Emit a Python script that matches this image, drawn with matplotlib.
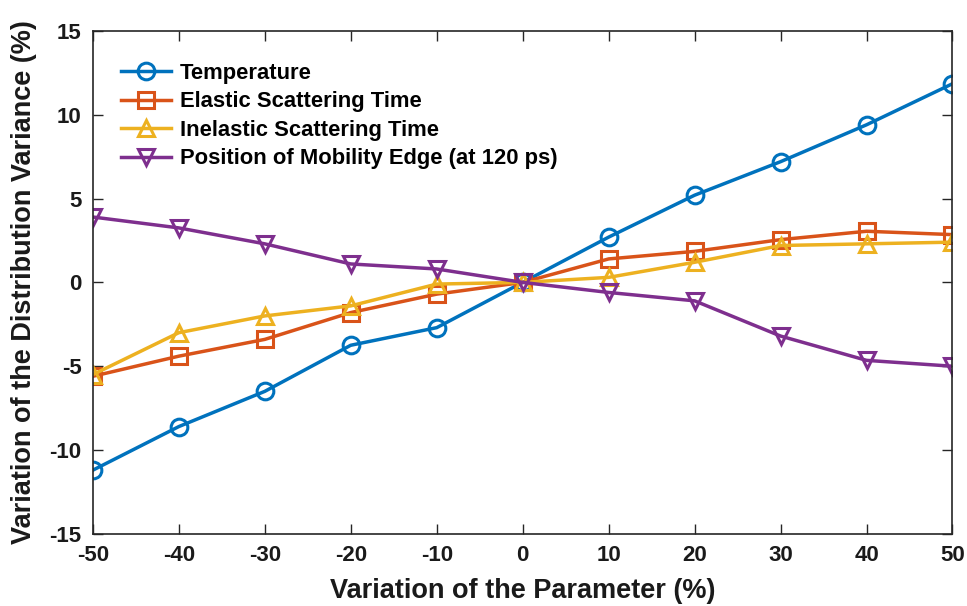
import numpy as np
import matplotlib.pyplot as plt

plt.rcParams["font.family"] = ["Liberation Sans", "DejaVu Sans"]
plt.rcParams["font.weight"] = "bold"
plt.rcParams["axes.unicode_minus"] = False

x = [-50, -40, -30, -20, -10, 0, 10, 20, 30, 40, 50]
temperature = [-11.2, -8.6, -6.5, -3.75, -2.7, 0.0, 2.7, 5.2, 7.2, 9.4, 11.85]
elastic = [-5.6, -4.4, -3.4, -1.8, -0.7, 0.0, 1.4, 1.85, 2.55, 3.05, 2.85]
inelastic = [-5.5, -3.0, -2.0, -1.4, -0.1, 0.0, 0.3, 1.2, 2.2, 2.3, 2.4]
mobility = [3.9, 3.25, 2.3, 1.1, 0.8, 0.0, -0.6, -1.1, -3.2, -4.65, -5.0]

series = [
    ("Temperature", temperature, "o", "#0072BD"),
    ("Elastic Scattering Time", elastic, "s", "#D95319"),
    ("Inelastic Scattering Time", inelastic, "^", "#EDB120"),
    ("Position of Mobility Edge (at 120 ps)", mobility, "v", "#7E2F8E"),
]

fig = plt.figure(figsize=(9.67, 6.06), dpi=100)
ax = fig.add_axes([0.096, 0.119, 0.889, 0.830])

for label, y, m, c in series:
    ax.plot(x, y, marker=m, color=c, lw=2.5, ms=12, mfc="none", mew=2.2,
            label=label)

ax.set_xlim(-50, 50)
ax.set_ylim(-15, 15)
ax.set_xticks(np.arange(-50, 51, 10))
ax.set_yticks(np.arange(-15, 16, 5))
ax.tick_params(direction="in", top=True, right=True, length=7, width=1,
               labelsize=16, colors="#262626", labelcolor="#1a1a1a", pad=8)
for sp in ax.spines.values():
    sp.set_linewidth(1.2)
    sp.set_color("#262626")

ax.set_xlabel("Variation of the Parameter (%)", fontsize=19.5, fontweight="bold",
              color="#1a1a1a", labelpad=9)
ax.set_ylabel("Variation of the Distribution Variance (%)", fontsize=19.5,
              fontweight="bold", color="#1a1a1a", labelpad=9)

leg = ax.legend(loc="upper left", frameon=False, fontsize=15.8,
                bbox_to_anchor=(0.022, 0.954), borderaxespad=0,
                handlelength=2.3, handletextpad=0.4, labelspacing=0.34)
for t in leg.get_texts():
    t.set_fontweight("bold")

fig.savefig("out.png", dpi=100)
